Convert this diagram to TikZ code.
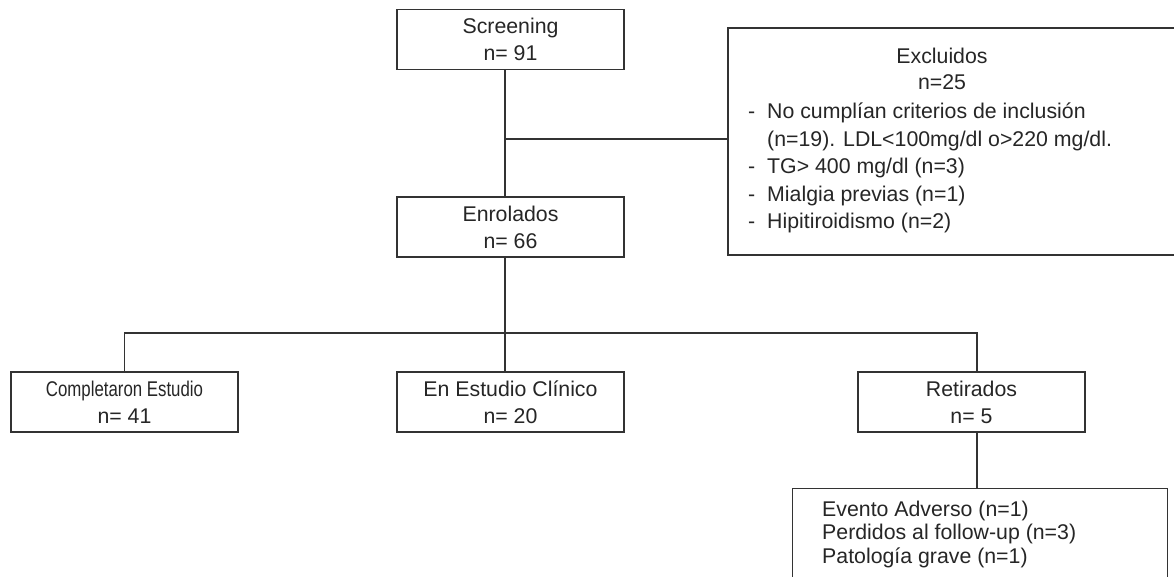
\documentclass[tikz,border=0pt]{standalone}
\usepackage{fontspec}
\setmainfont{Liberation Sans}
\usetikzlibrary{positioning}

\newcommand{\guion}{\makebox[19pt][l]{-}}

\tikzset{
  box/.style={draw=black!80, line width=1.3pt, minimum width=227pt, minimum height=60pt,
              inner sep=0pt, align=center, text=black!85},
  txt/.style={inner sep=0pt, text=black!85},
  link/.style={draw=black!80, line width=1.3pt},
}

\begin{document}
\begin{tikzpicture}[x=1pt,y=-1pt,font=\fontsize{21.3}{27}\selectfont]
  \clip (0,0) rectangle (1174,577);
  \fill[white] (0,0) rectangle (1174,577);

  \node[box]  (screening)   at (510.5,39.5)  {Screening\\n= 91};
  \node[box]  (enrolados)   at (510.5,227)   {Enrolados\\n= 66};
  \node[box]  (estudio)     at (510.5,402)   {En Estudio Clínico\\n= 20};
  \node[box]  (completaron) at (124.5,402)   {\scalebox{0.79}[1]{Completaron Estudio}\\n= 41};
  \node[box]  (retirados)   at (971.5,402)   {Retirados\\n= 5};

  % cuadro de excluidos
  \node[box, minimum width=460pt, minimum height=227pt] (excluidos) at (958,141.5) {};
  \node[txt, align=center, font=\fontsize{21.3}{26}\selectfont] (exctitulo) at (942,69) {Excluidos\\n=25};
  \node[txt, align=left, anchor=west, font=\fontsize{21.3}{27.5}\selectfont] (exclista) at (748,168)
    {\guion No cumplían criterios de inclusión\\
     \hspace*{19pt}(n=19). LDL<100mg/dl o>220 mg/dl.\\
     \guion TG> 400 mg/dl (n=3)\\
     \guion Mialgia previas (n=1)\\
     \guion Hipitiroidismo (n=2)};

  % causas de retiro
  \node[box, minimum width=375pt, minimum height=110pt, anchor=north west] (causas) at (792,488) {};
  \node[txt, align=left, anchor=west, font=\fontsize{21.3}{23.5}\selectfont] (causaslista) at (822,534)
    {Evento Adverso (n=1)\\
     Perdidos al follow-up (n=3)\\
     Patología grave (n=1)};

  \coordinate (rama)   at (505,139);
  \coordinate (reparto) at (505,333);

  \draw[link] ([xshift=-5.5pt]screening.south) -- ([xshift=-5.5pt]enrolados.north);
  \draw[link] (rama) -- (rama -| excluidos.west);
  \draw[link] ([xshift=-5.5pt]enrolados.south) -- ([xshift=-5.5pt]estudio.north);
  \draw[link] (completaron.north) |- (reparto) -| ([xshift=5.5pt]retirados.north);
  \draw[link] ([xshift=5.5pt]retirados.south) -- ([xshift=5.5pt]retirados.south |- causas.north);
\end{tikzpicture}
\end{document}
